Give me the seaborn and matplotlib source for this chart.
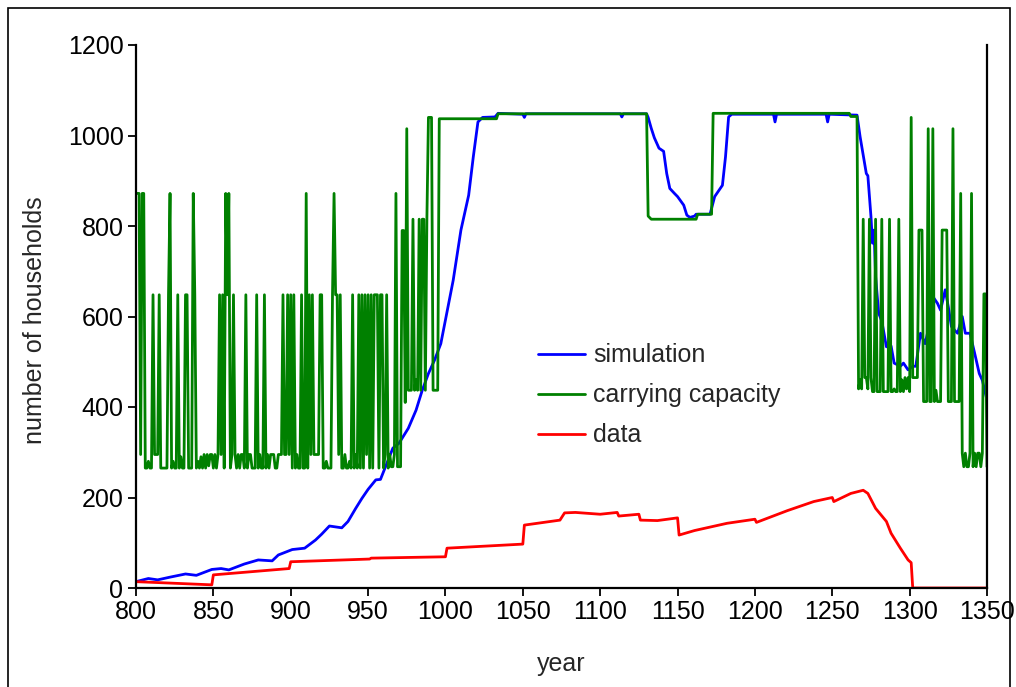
import numpy as np
import pandas as pd
import matplotlib
matplotlib.use("Agg")
import matplotlib.pyplot as plt
from matplotlib.patches import Rectangle
import seaborn as sns

# ---- simulation: number of households (breakpoints) ----
sim_years = [800, 808, 814, 822, 832, 839, 849, 855, 860, 870, 879, 888, 892, 901,
             909, 916, 920, 925, 933, 937, 942, 946, 950, 955, 958, 963, 966, 970,
             976, 981, 985, 989, 993, 997, 1001, 1005, 1010, 1015, 1018, 1021, 1024,
             1032, 1034, 1050, 1051, 1052, 1113, 1114, 1115, 1130, 1131, 1133, 1135,
             1138, 1141, 1143, 1145, 1148, 1150, 1154, 1156, 1158, 1161, 1162, 1171,
             1174, 1177, 1179, 1181, 1183, 1185, 1212, 1213, 1214, 1246, 1247, 1248,
             1266, 1268, 1272, 1273, 1275, 1276, 1277, 1278, 1280, 1282, 1285, 1288,
             1290, 1294, 1296, 1299, 1302, 1304, 1307, 1310, 1312, 1315, 1318, 1320,
             1323, 1325, 1327, 1329, 1331, 1334, 1336, 1339, 1342, 1345, 1347, 1350]
sim_values = [14, 21, 18, 24, 31, 28, 41, 43, 40, 53, 62, 60, 73, 85,
              88, 106, 119, 137, 133, 147, 176, 198, 218, 239, 240, 283, 309, 320,
              353, 393, 437, 474, 504, 540, 610, 680, 791, 868, 953, 1030, 1040,
              1041, 1049, 1047, 1040, 1048, 1048, 1041, 1048, 1048, 1040, 1016, 995,
              972, 965, 916, 883, 872, 865, 846, 824, 819, 822, 826, 826,
              865, 880, 890, 953, 1041, 1047, 1047, 1030, 1047, 1047, 1030, 1047,
              1045, 997, 916, 911, 821, 762, 791, 688, 607, 590, 533, 535,
              497, 490, 497, 482, 490, 490, 563, 540, 570, 644, 629, 614,
              659, 621, 578, 570, 563, 600, 563, 563, 519, 474, 459, 415]

# ---- carrying capacity ----
# yearly values 800-995
cc_early_start = 800
cc_early_values = [
    872, 872, 872, 295, 872, 872, 265, 265, 280, 265,
    265, 648, 295, 295, 295, 648, 265, 265, 265, 265,
    265, 648, 872, 265, 280, 265, 265, 648, 265, 290,
    265, 265, 648, 648, 265, 265, 265, 872, 648, 265,
    280, 265, 290, 265, 295, 265, 295, 270, 295, 295,
    265, 295, 265, 295, 648, 295, 648, 265, 872, 648,
    872, 265, 295, 648, 295, 265, 295, 265, 295, 295,
    265, 648, 265, 295, 295, 265, 265, 265, 648, 265,
    295, 265, 265, 648, 265, 295, 265, 295, 295, 295,
    265, 265, 295, 295, 295, 648, 295, 295, 648, 295,
    648, 265, 648, 265, 295, 265, 265, 648, 265, 265,
    872, 265, 648, 295, 648, 295, 295, 295, 295, 648,
    648, 265, 265, 280, 265, 265, 265, 648, 872, 648,
    648, 295, 648, 265, 265, 295, 265, 265, 280, 265,
    648, 265, 295, 265, 648, 265, 648, 265, 648, 295,
    648, 265, 648, 265, 648, 648, 648, 265, 648, 648,
    265, 295, 648, 265, 295, 268, 268, 295, 872, 268,
    268, 268, 790, 790, 410, 1015, 437, 437, 437, 815,
    437, 460, 437, 815, 437, 815, 815, 437, 815, 1040,
    1040, 1040, 437, 437, 437, 437]
# plateau breakpoints 996-1266
cc_mid_years = [996, 1033, 1034, 1130, 1131, 1133, 1162, 1163, 1172, 1173,
                1261, 1262, 1266]
cc_mid_values = [1037, 1037, 1048, 1048, 822, 815, 815, 826, 826, 1049,
                 1049, 1042, 1042]
# yearly values 1267-1350
cc_late_start = 1267
cc_late_values = [
    440, 460, 440, 815, 465, 465, 440, 815, 465, 434,
    434, 815, 434, 434, 434, 815, 434, 434, 434, 434,
    815, 434, 434, 440, 434, 434, 815, 434, 460, 434,
    465, 440, 465, 434, 1040, 465, 465, 465, 465, 791,
    791, 791, 412, 412, 412, 1015, 412, 412, 1015, 412,
    437, 412, 412, 412, 791, 791, 791, 791, 412, 412,
    412, 1015, 412, 412, 412, 412, 872, 298, 268, 298,
    268, 268, 298, 872, 268, 298, 268, 298, 298, 268,
    298, 650, 650, 268]

# ---- archaeological data ----
data_years = [800, 849, 850, 899, 900, 951, 952, 1000, 1001, 1050, 1051, 1074,
              1077, 1084, 1100, 1111, 1112, 1125, 1126, 1137, 1150, 1151, 1161,
              1182, 1200, 1201, 1221, 1238, 1250, 1251, 1262, 1270, 1273, 1278,
              1285, 1288, 1294, 1299, 1301, 1302, 1350]
data_values = [14, 7, 29, 43, 58, 64, 66, 69, 88, 97, 139, 150,
               166, 167, 163, 167, 159, 163, 150, 149, 155, 117, 127,
               143, 152, 145, 171, 191, 200, 191, 209, 216, 209, 176,
               147, 121, 88, 62, 56, 0, 0]

x_ticks = list(range(800, 1351, 50))
y_ticks = list(range(0, 1201, 200))

cc_years = (list(range(cc_early_start, cc_early_start + len(cc_early_values)))
            + cc_mid_years
            + list(range(cc_late_start, cc_late_start + len(cc_late_values))))
cc_values = cc_early_values + cc_mid_values + cc_late_values

sim_df = pd.DataFrame({"year": sim_years, "households": sim_values})
cc_df = pd.DataFrame({"year": cc_years, "households": cc_values})
data_df = pd.DataFrame({"year": data_years, "households": data_values})

sns.set_style("white")
plt.rcParams["font.family"] = ["Liberation Sans", "DejaVu Sans"]

W, H = 1016, 687
FS = 18
fig = plt.figure(figsize=(W / 100, H / 100), dpi=100)
ax = fig.add_axes([136 / W, 1 - 588 / H, (987 - 136) / W, (588 - 45) / H])

lw = 2.0
sns.lineplot(data=sim_df, x="year", y="households", ax=ax, color="#0000FF",
             lw=lw, label="simulation", sort=False, estimator=None)
sns.lineplot(data=cc_df, x="year", y="households", ax=ax, color="#008000",
             lw=lw, label="carrying capacity", sort=False, estimator=None)
sns.lineplot(data=data_df, x="year", y="households", ax=ax, color="#FF0000",
             lw=lw, label="data", sort=False, estimator=None)

ax.set_xlim(800, 1350)
ax.set_ylim(0, 1200)
ax.set_xticks(x_ticks)
ax.set_yticks(y_ticks)
ax.tick_params(axis="both", labelsize=FS, direction="out", length=6, width=1.3,
               color="black", labelcolor="black")
ax.tick_params(axis="x", bottom=True, pad=2.5)
ax.tick_params(axis="y", left=True, pad=3)
for side in ["left", "bottom", "right"]:
    ax.spines[side].set_visible(True)
    ax.spines[side].set_color("black")
    ax.spines[side].set_linewidth(1.6)
ax.spines["top"].set_visible(False)
ax.grid(False)

ax.set_xlabel("year", fontsize=FS)
ax.set_ylabel("number of households", fontsize=FS)
ax.xaxis.set_label_coords(0.5, -0.118)
ax.yaxis.set_label_coords(-0.105, 0.494)

leg = ax.legend(loc="upper left", bbox_to_anchor=(0.4606, 0.469), frameon=False,
                fontsize=FS, handlelength=1.9, handletextpad=0.32,
                labelspacing=0.64, borderaxespad=0)

# outer chart border
fig.patches.append(Rectangle((8 / W, -0.01), (1010 - 8) / W, 1 - 8 / H + 0.01,
                             transform=fig.transFigure, fill=False,
                             edgecolor="black", lw=1.2))

fig.savefig("out.png", dpi=100)
